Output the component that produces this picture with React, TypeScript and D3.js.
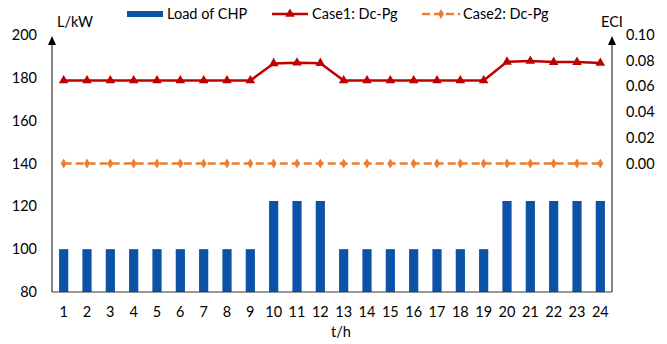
import React, { useEffect, useRef } from 'react';
import * as d3 from 'd3';

// hours 1..24
const hours = d3.range(1, 25).map(String);
// Load of CHP (left axis, L/kW)
const loadCHP = [100, 100, 100, 100, 100, 100, 100, 100, 100, 122.5, 122.5, 122.5,
  100, 100, 100, 100, 100, 100, 100, 122.5, 122.5, 122.5, 122.5, 122.5];
// Case1 Dc-Pg (right axis, ECI)
const case1 = [0.0646, 0.0646, 0.0646, 0.0646, 0.0646, 0.0646, 0.0646, 0.0646, 0.0646, 0.0779, 0.0784, 0.0781,
  0.0646, 0.0646, 0.0646, 0.0646, 0.0646, 0.0646, 0.0646, 0.0791, 0.0797, 0.0789, 0.0789, 0.0782];
// Case2 Dc-Pg (right axis, ECI)
const case2 = [0, 0, 0, 0, 0, 0, 0, 0, 0, 0, 0, 0, 0, 0, 0, 0, 0, 0, 0, 0, 0, 0, 0, 0];
const leftTicks = [80, 100, 120, 140, 160, 180, 200];
const rightTicks = [0, 0.02, 0.04, 0.06, 0.08, 0.1];

const W = 667;
const H = 344;
const FONT = 'Lato, "Open Sans", sans-serif';

const App = () => {
  const svgRef = useRef<SVGSVGElement>(null);

  useEffect(() => {
    const svg = d3.select(svgRef.current);
    svg.selectAll('*').remove();

    const left = 52, right = 612, top = 35, bottom = 292;

    const xPoint = d3.scalePoint().domain(hours).range([left, right]).padding(0.5);
    const yL = d3.scaleLinear().domain([80, 200]).range([bottom, top]);
    const yR = d3.scaleLinear().domain([-0.1, 0.1]).range([bottom, top]);

    // bars
    svg.append('g')
      .selectAll('rect')
      .data(loadCHP)
      .enter()
      .append('rect')
      .attr('x', (d, i) => xPoint(hours[i])! - 4.6)
      .attr('width', 9.2)
      .attr('y', d => yL(d))
      .attr('height', d => yL(80) - yL(d))
      .attr('fill', '#0B52A8');

    // axes lines + arrow heads
    const axisColor = '#333';
    [left, right].forEach(ax => {
      svg.append('line').attr('x1', ax).attr('x2', ax).attr('y1', bottom).attr('y2', top + 6)
        .attr('stroke', axisColor).attr('stroke-width', 1.2);
      svg.append('path')
        .attr('d', `M${ax},${top + 1} L${ax - 4},${top + 10} L${ax + 4},${top + 10} Z`)
        .attr('fill', '#000');
    });
    svg.append('line').attr('x1', left).attr('x2', right).attr('y1', bottom).attr('y2', bottom)
      .attr('stroke', axisColor).attr('stroke-width', 1.2);

    const txt = svg.append('g').attr('font-family', FONT).attr('font-size', 14.5).attr('fill', '#000');

    // left ticks
    txt.selectAll('.lt').data(leftTicks).enter().append('text')
      .attr('x', left - 15).attr('y', d => yL(d)).attr('dy', '0.35em')
      .attr('text-anchor', 'end').text(d => d);
    // right ticks
    txt.selectAll('.rt').data(rightTicks).enter().append('text')
      .attr('x', right + 14).attr('y', d => yR(d)).attr('dy', '0.35em')
      .text(d => d3.format('.2f')(d));
    // x ticks
    txt.selectAll('.xt').data(hours).enter().append('text')
      .attr('x', d => xPoint(d)!).attr('y', 317)
      .attr('text-anchor', 'middle').text(d => d);

    txt.append('text').attr('x', 57).attr('y', 27).text('L/kW');
    txt.append('text').attr('x', 601).attr('y', 27).text('ECI');
    txt.append('text').attr('x', 331).attr('y', 337).text('t/h');

    const line = (arr: number[]) => d3.line<number>()
      .x((d, i) => xPoint(hours[i])!)
      .y(d => yR(d))(arr);

    // case2 line
    svg.append('path').attr('d', line(case2)).attr('fill', 'none')
      .attr('stroke', '#ED7D31').attr('stroke-width', 2.5).attr('stroke-dasharray', '8,4');
    const diamond = d3.symbol().type(d3.symbolDiamond).size(30);
    svg.append('g').selectAll('path').data(case2).enter().append('path')
      .attr('d', diamond as any)
      .attr('transform', (d, i) => `translate(${xPoint(hours[i])},${yR(d)})`)
      .attr('fill', '#ED7D31');

    // case1 line
    svg.append('path').attr('d', line(case1)).attr('fill', 'none')
      .attr('stroke', '#C00000').attr('stroke-width', 2.5);
    const tri = d3.symbol().type(d3.symbolTriangle).size(40);
    svg.append('g').selectAll('path').data(case1).enter().append('path')
      .attr('d', tri as any)
      .attr('transform', (d, i) => `translate(${xPoint(hours[i])},${yR(d)})`)
      .attr('fill', '#C00000');

    // legend
    const lg = svg.append('g').attr('font-family', FONT).attr('font-size', 14.5);
    lg.append('rect').attr('x', 127).attr('y', 11).attr('width', 36).attr('height', 6).attr('fill', '#0B52A8');
    lg.append('text').attr('x', 167).attr('y', 19).text('Load of CHP');

    lg.append('line').attr('x1', 272).attr('x2', 308).attr('y1', 14).attr('y2', 14)
      .attr('stroke', '#C00000').attr('stroke-width', 2.5);
    lg.append('path').attr('d', tri as any).attr('transform', 'translate(290,14)').attr('fill', '#C00000');
    lg.append('text').attr('x', 312).attr('y', 19).text('Case1: Dc-Pg');

    lg.append('line').attr('x1', 422).attr('x2', 460).attr('y1', 14).attr('y2', 14)
      .attr('stroke', '#ED7D31').attr('stroke-width', 2.5).attr('stroke-dasharray', '8,4');
    lg.append('path').attr('d', diamond as any).attr('transform', 'translate(441,14)').attr('fill', '#ED7D31');
    lg.append('text').attr('x', 463).attr('y', 19).text('Case2: Dc-Pg');
  }, []);

  return (
    <svg ref={svgRef} width={W} height={H}
      style={{ position: 'absolute', left: 0, top: 0, background: '#fff' }} />
  );
};

export default App;
